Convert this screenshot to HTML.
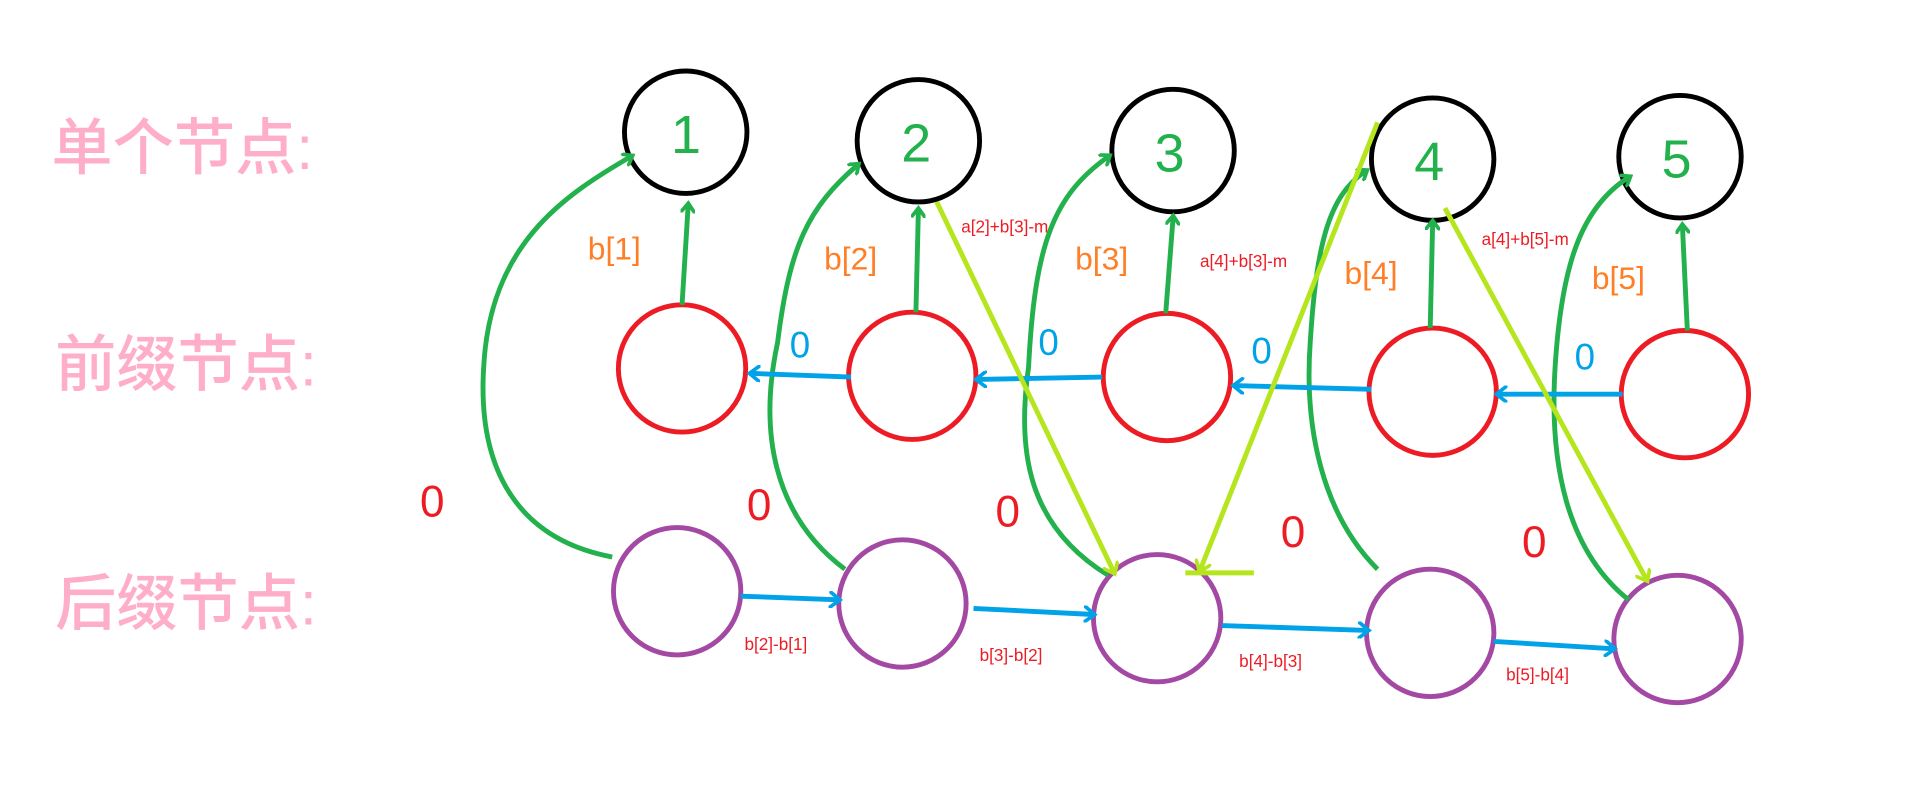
<!DOCTYPE html>
<html><head><meta charset="utf-8"><style>
html,body{margin:0;padding:0;background:#fff;width:1920px;height:792px;overflow:hidden}
svg{display:block}
text{font-family:"Liberation Sans","Noto Sans CJK SC",sans-serif}
</style></head><body>
<svg width="1920" height="792" viewBox="0 0 1568 647" preserveAspectRatio="none">
<defs>
<marker id="g" markerWidth="12" markerHeight="12" refX="6" refY="6" orient="auto" markerUnits="userSpaceOnUse"><path d="M0,0 L8,6 L0,12" fill="none" stroke="#22b14c" stroke-width="3"/></marker>
<marker id="b" markerWidth="14" markerHeight="14" refX="8" refY="7" orient="auto" markerUnits="userSpaceOnUse"><path d="M0,0 L9,7 L0,14" fill="none" stroke="#00a2e8" stroke-width="3"/></marker>
<marker id="y" markerWidth="14" markerHeight="14" refX="8" refY="7" orient="auto" markerUnits="userSpaceOnUse"><path d="M0,0 L9,7 L0,14" fill="none" stroke="#b5e61d" stroke-width="3"/></marker>
</defs>
<g fill="#ffaec9" font-size="50" font-weight="500">
<text x="42" y="138">单个节点:</text>
<text x="45" y="315">前缀节点:</text>
<text x="45" y="510">后缀节点:</text>
</g>
<g fill="none" stroke="#000" stroke-width="4">
<circle cx="560" cy="108" r="50"/><circle cx="750" cy="115" r="50"/><circle cx="958" cy="123" r="50"/><circle cx="1170" cy="130" r="50"/><circle cx="1372" cy="128" r="50"/>
</g>
<g fill="none" stroke="#ed1c24" stroke-width="4">
<circle cx="557" cy="301" r="52"/><circle cx="745" cy="307" r="52"/><circle cx="953" cy="308" r="52"/><circle cx="1170" cy="320" r="52"/><circle cx="1376" cy="322" r="52"/>
</g>
<g fill="none" stroke="#a349a4" stroke-width="4">
<circle cx="553" cy="483" r="52"/><circle cx="737" cy="493" r="52"/><circle cx="945" cy="505" r="52"/><circle cx="1168" cy="517" r="52"/><circle cx="1370" cy="522" r="52"/>
</g>
<g fill="#22b14c" font-size="44">
<text x="548" y="125">1</text><text x="736" y="132">2</text><text x="943" y="140">3</text><text x="1155" y="147">4</text><text x="1357" y="145">5</text>
</g>
<g stroke="#22b14c" stroke-width="4" fill="none">
<line x1="557" y1="249" x2="562" y2="168" marker-end="url(#g)"/>
<line x1="748" y1="255" x2="750" y2="172" marker-end="url(#g)"/>
<line x1="952" y1="256" x2="958" y2="178" marker-end="url(#g)"/>
<line x1="1168" y1="268" x2="1170" y2="182" marker-end="url(#g)"/>
<line x1="1378" y1="270" x2="1374" y2="185" marker-end="url(#g)"/>
<path d="M500,455 C420,440 390,380 395,300 C400,200 460,160 515,128" marker-end="url(#g)"/>
<path d="M690,465 C630,420 620,350 635,280 C645,200 660,170 700,135" marker-end="url(#g)"/>
<path d="M905,470 C840,430 830,370 840,300 C845,200 860,160 905,128" marker-end="url(#g)"/>
<path d="M1125,465 C1080,420 1065,350 1070,280 C1075,200 1085,160 1115,140" marker-end="url(#g)"/>
<path d="M1330,490 C1280,450 1265,380 1270,300 C1275,220 1290,170 1330,145" marker-end="url(#g)"/>
</g>
<g fill="#ff7f27" font-size="26">
<text x="480" y="212">b[1]</text><text x="673" y="220">b[2]</text><text x="878" y="220">b[3]</text><text x="1098" y="232">b[4]</text><text x="1300" y="236">b[5]</text>
</g>
<g stroke="#00a2e8" stroke-width="4" fill="none">
<line x1="695" y1="308" x2="613" y2="305" marker-end="url(#b)"/>
<line x1="900" y1="308" x2="798" y2="310" marker-end="url(#b)"/>
<line x1="1120" y1="318" x2="1008" y2="315" marker-end="url(#b)"/>
<line x1="1325" y1="322" x2="1223" y2="322" marker-end="url(#b)"/>
<line x1="605" y1="487" x2="685" y2="490" marker-end="url(#b)"/>
<line x1="795" y1="497" x2="893" y2="502" marker-end="url(#b)"/>
<line x1="998" y1="511" x2="1117" y2="515" marker-end="url(#b)"/>
<line x1="1220" y1="524" x2="1318" y2="530" marker-end="url(#b)"/>
</g>
<g fill="#00a2e8" font-size="30">
<text x="645" y="292">0</text><text x="848" y="290">0</text><text x="1022" y="297">0</text><text x="1286" y="302">0</text>
</g>
<g fill="#ed1c24" font-size="36">
<text x="343" y="422">0</text><text x="610" y="425">0</text><text x="813" y="430">0</text><text x="1046" y="447">0</text><text x="1243" y="455">0</text>
</g>
<g fill="#ed1c24" font-size="14">
<text x="608" y="531">b[2]-b[1]</text><text x="800" y="540">b[3]-b[2]</text><text x="1012" y="545">b[4]-b[3]</text><text x="1230" y="556">b[5]-b[4]</text>
<text x="785" y="190">a[2]+b[3]-m</text><text x="980" y="218">a[4]+b[3]-m</text><text x="1210" y="200">a[4]+b[5]-m</text>
</g>
<g stroke="#b5e61d" stroke-width="4" fill="none">
<line x1="765" y1="165" x2="910" y2="468" marker-end="url(#y)"/>
<line x1="1125" y1="100" x2="980" y2="466" marker-end="url(#y)"/>
<line x1="968" y1="468" x2="1024" y2="468"/>
<line x1="1180" y1="170" x2="1345" y2="474" marker-end="url(#y)"/>
</g>
</svg>
</body></html>
